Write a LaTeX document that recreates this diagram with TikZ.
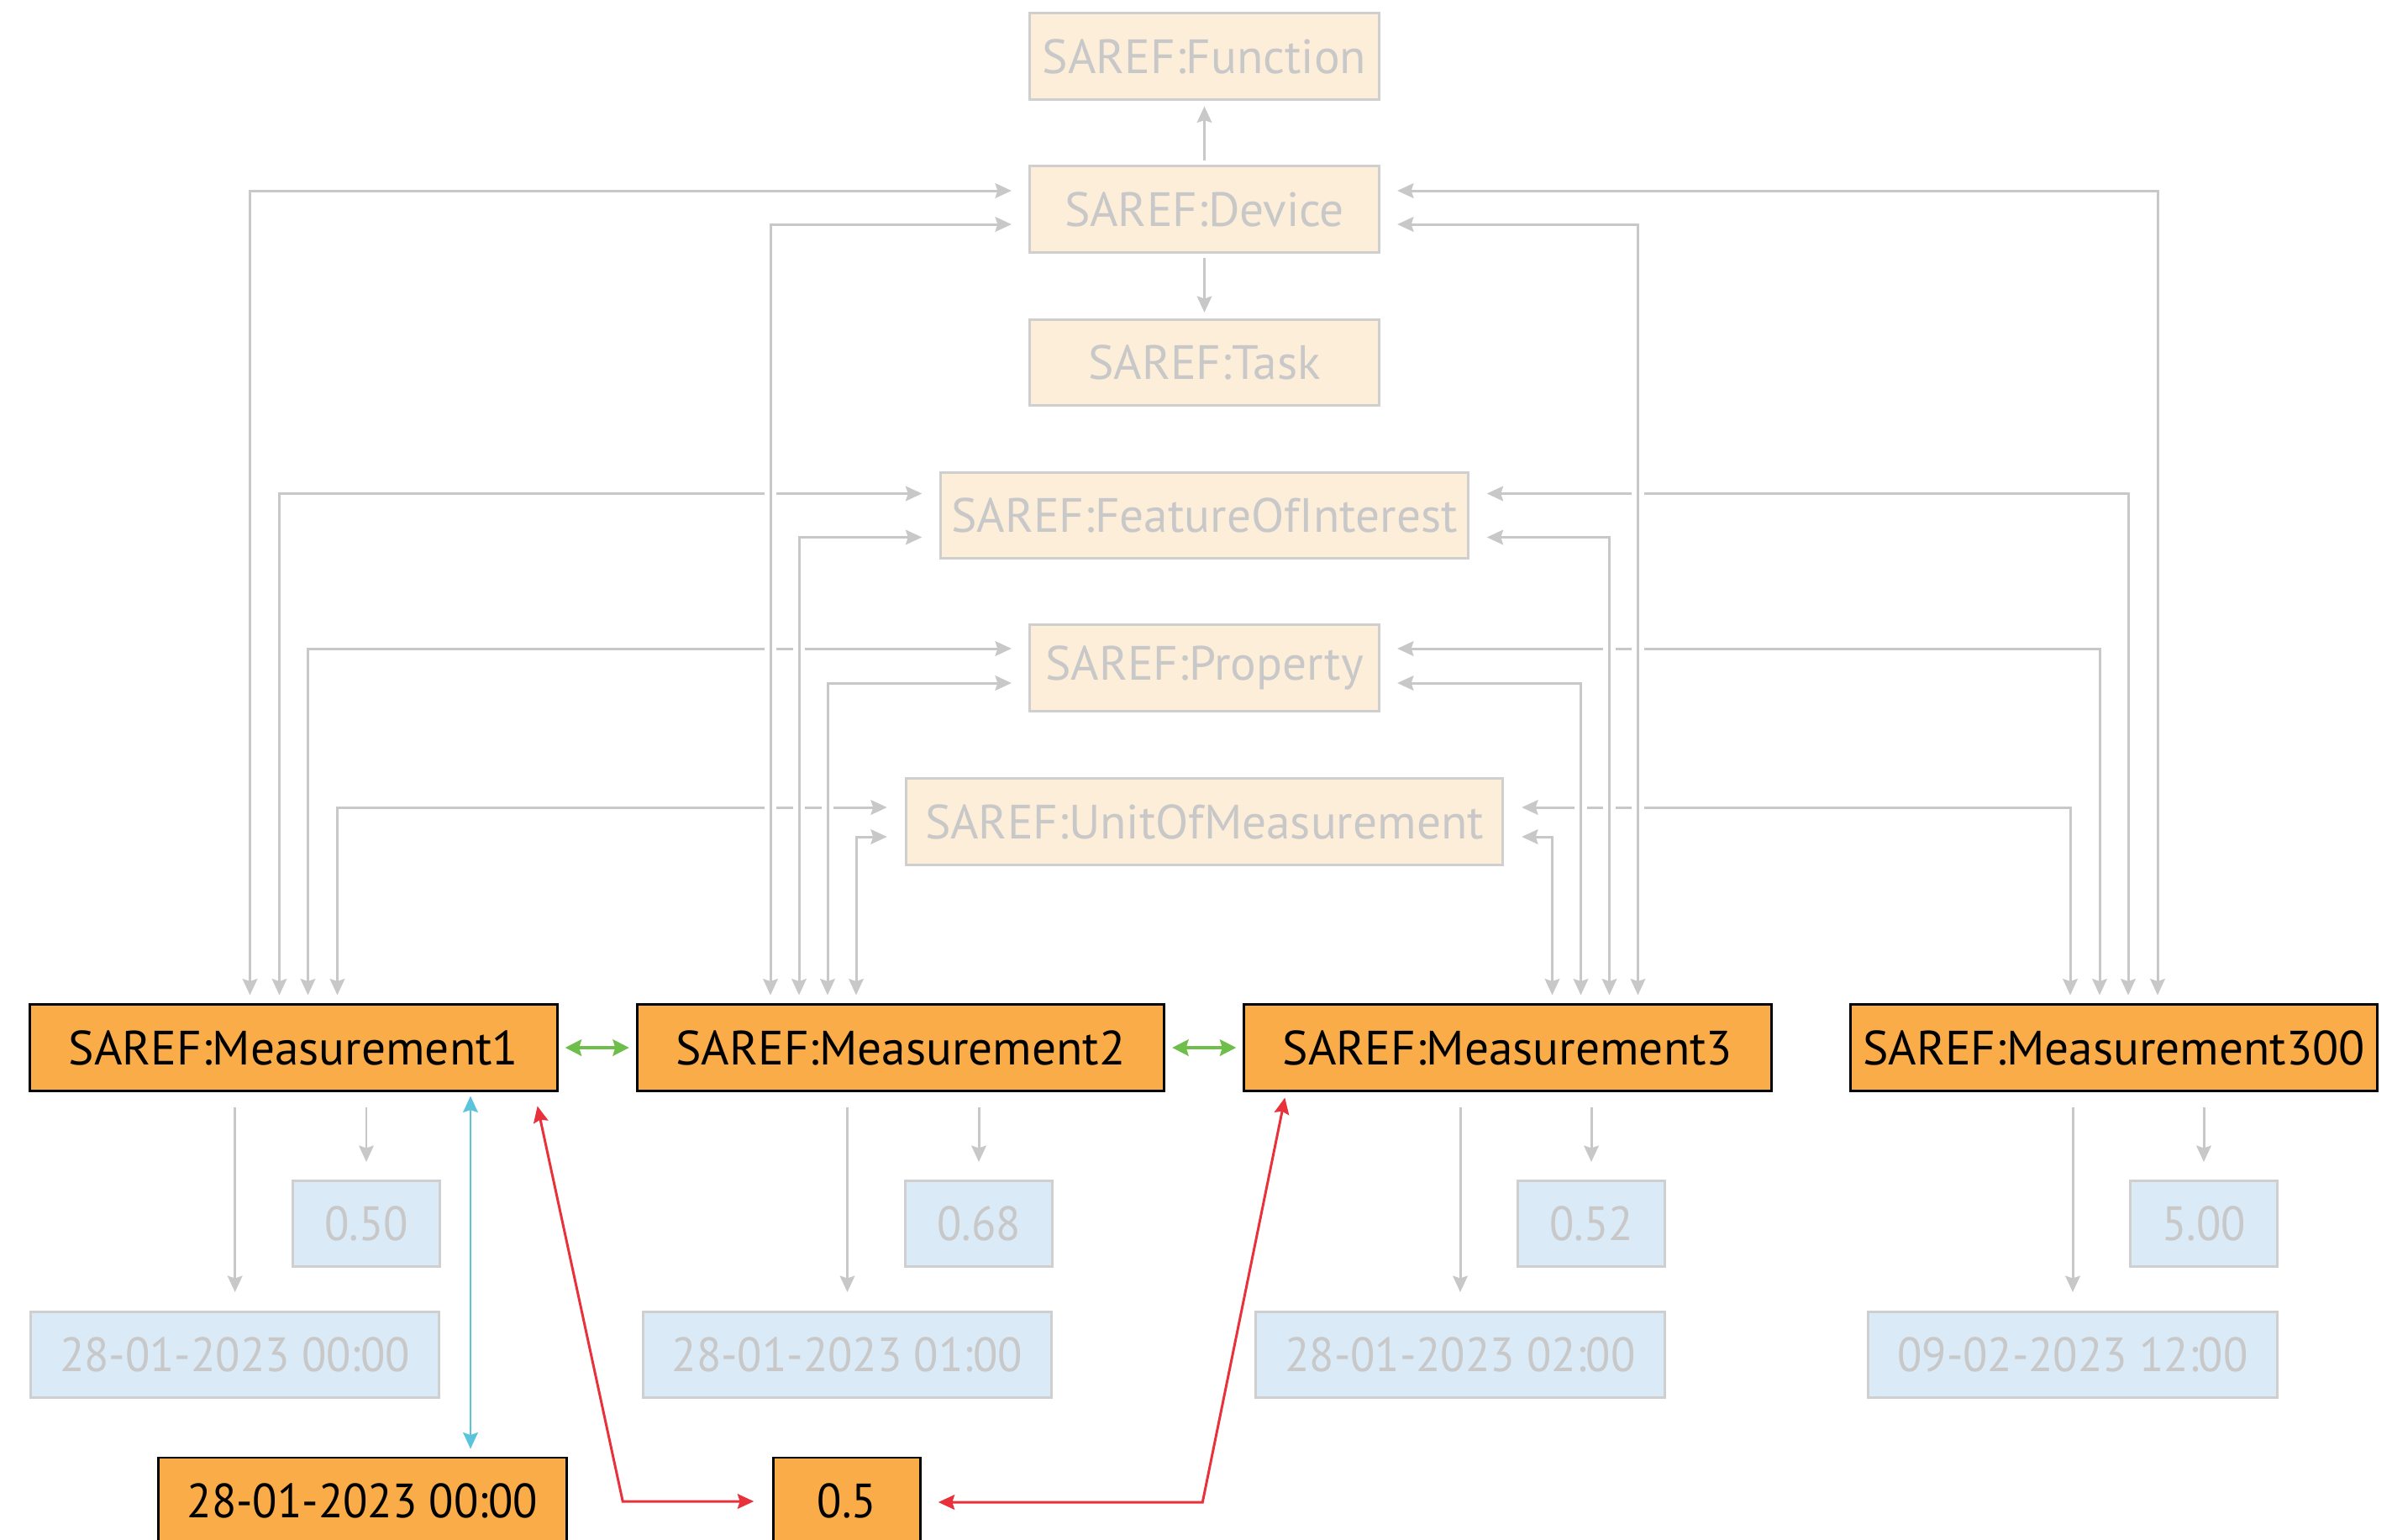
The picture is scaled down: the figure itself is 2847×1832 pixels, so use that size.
\documentclass[tikz,border=0pt]{standalone}
\usepackage{fontspec}
\setmainfont{PT Sans}
\newfontfamily\numfont[FakeStretch=0.94]{PT Sans}
\usetikzlibrary{arrows.meta,calc}
\definecolor{peach}{HTML}{FDEEDA}
\definecolor{paleblue}{HTML}{DAEAF7}
\definecolor{boxgray}{HTML}{CFCFCF}
\definecolor{txtgray}{HTML}{C8C8C8}
\definecolor{linegray}{HTML}{C8C8C8}
\definecolor{morange}{HTML}{F9AC47}
\definecolor{mgreen}{HTML}{6DBE4B}
\definecolor{mcyan}{HTML}{5BC4DA}
\definecolor{mred}{HTML}{E9313B}
\begin{document}
\begin{tikzpicture}[x=0.01cm,y=-0.01cm,
  every node/.style={font=\fontsize{16.3}{20}\selectfont, inner sep=0pt},
  numtext/.style={font=\numfont\fontsize{16.3}{20}\selectfont},
  topbox/.style={draw=boxgray, fill=peach, line width=0.85pt, text=txtgray, minimum height=1.02cm},
  valbox/.style={draw=boxgray, fill=paleblue, line width=0.85pt, text=txtgray, minimum height=1.02cm, numtext},
  mbox/.style={draw=black, fill=morange, line width=0.85pt, text=black, minimum height=1.02cm},
  conn/.style={draw=linegray, line width=0.85pt,
    {Stealth[length=5.5pt,width=5pt,inset=0.8pt]}-{Stealth[length=5.5pt,width=5pt,inset=0.8pt]},
    preaction={draw=white, line width=4pt, -}},
  garrow/.style={draw=linegray, line width=0.85pt, -{Stealth[length=5.5pt,width=5pt,inset=0.8pt]}},
  greenarr/.style={draw=mgreen, line width=1.1pt,
    {Stealth[length=5.5pt,width=5.5pt,inset=0.8pt]}-{Stealth[length=5.5pt,width=5.5pt,inset=0.8pt]}},
  cyanarr/.style={draw=mcyan, line width=0.85pt,
    {Stealth[length=5.5pt,width=5pt,inset=0.8pt]}-{Stealth[length=5.5pt,width=5pt,inset=0.8pt]}},
  redarr/.style={draw=mred, line width=0.85pt,
    {Stealth[length=5.5pt,width=5pt,inset=0.8pt]}-{Stealth[length=5.5pt,width=5pt,inset=0.8pt]}},
]
\useasboundingbox (0,0) rectangle (2847,1832);

% top column
\node[topbox, minimum width=4.16cm] (fun)  at (1433.5,67)    {SAREF:Function};
\node[topbox, minimum width=4.16cm] (dev)  at (1433.5,249)   {SAREF:Device};
\node[topbox, minimum width=4.16cm] (task) at (1433.5,431.5) {SAREF:Task};
\node[topbox, minimum width=6.27cm] (foi)  at (1433.5,613.5) {SAREF:FeatureOfInterest};
\node[topbox, minimum width=4.16cm] (prop) at (1433.5,795)   {SAREF:Property};
\node[topbox, minimum width=7.10cm] (uom)  at (1433.5,978)   {SAREF:UnitOfMeasurement};

% measurements
\node[mbox, minimum width=6.27cm] (m1)   at (349.5,1247)  {SAREF:Measurement1};
\node[mbox, minimum width=6.27cm] (m2)   at (1072,1247)   {SAREF:Measurement2};
\node[mbox, minimum width=6.27cm] (m3)   at (1794.5,1247) {SAREF:Measurement3};
\node[mbox, minimum width=6.27cm] (m300) at (2516,1247)   {SAREF:Measurement300};

% values
\node[valbox, minimum width=1.74cm] (v1) at (436,1456.5)  {0.50};
\node[valbox, minimum width=1.74cm] (v2) at (1165,1456.5) {0.68};
\node[valbox, minimum width=1.74cm] (v3) at (1894,1456.5) {0.52};
\node[valbox, minimum width=1.74cm] (v4) at (2623,1456.5) {5.00};

% timestamps
\node[valbox, minimum width=4.86cm] (t1) at (279.7,1612.5) {28-01-2023 00:00};
\node[valbox, minimum width=4.86cm] (t2) at (1008.5,1612.5) {28-01-2023 01:00};
\node[valbox, minimum width=4.86cm] (t3) at (1738,1612.5) {28-01-2023 02:00};
\node[valbox, minimum width=4.86cm] (t4) at (2467,1612.5) {09-02-2023 12:00};

% bottom highlighted
\node[mbox, numtext, minimum width=4.85cm] (b1) at (431.5,1786) {28-01-2023 00:00};
\node[mbox, numtext, minimum width=1.745cm] (b2) at (1008,1786) {0.5};

% device links
\draw[garrow] ($(dev.north)+(0,-5)$) -- ($(fun.south)+(0,7)$);
\draw[garrow] ($(dev.south)+(0,5)$) -- ($(task.north)+(0,-7)$);

% M1 (outer left)
\draw[conn] ($(m1.north)+(-52,-10)$) |- ($(dev.west)+(-20,-22)$);
\draw[conn] ($(m1.north)+(-17,-10)$) |- ($(foi.west)+(-21,-26)$);
\draw[conn] ($(m1.north)+(17,-10)$)  |- ($(prop.west)+(-20,-23)$);
\draw[conn] ($(m1.north)+(52,-10)$)  |- ($(uom.west)+(-21,-17)$);
% M300 (outer right)
\draw[conn] ($(m300.north)+(52,-10)$)  |- ($(dev.east)+(20,-22)$);
\draw[conn] ($(m300.north)+(17,-10)$)  |- ($(foi.east)+(21,-26)$);
\draw[conn] ($(m300.north)+(-17,-10)$) |- ($(prop.east)+(20,-23)$);
\draw[conn] ($(m300.north)+(-52,-10)$) |- ($(uom.east)+(21,-17)$);
% M2 (inner left)
\draw[conn] ($(m2.north)+(-155,-10)$) |- ($(dev.west)+(-20,18)$);
\draw[conn] ($(m2.north)+(-121,-10)$) |- ($(foi.west)+(-21,26)$);
\draw[conn] ($(m2.north)+(-87,-10)$)  |- ($(prop.west)+(-20,18)$);
\draw[conn] ($(m2.north)+(-53,-10)$)  |- ($(uom.west)+(-21,18)$);
% M3 (inner right)
\draw[conn] ($(m3.north)+(155,-10)$) |- ($(dev.east)+(20,18)$);
\draw[conn] ($(m3.north)+(121,-10)$) |- ($(foi.east)+(21,26)$);
\draw[conn] ($(m3.north)+(87,-10)$)  |- ($(prop.east)+(20,18)$);
\draw[conn] ($(m3.north)+(53,-10)$)  |- ($(uom.east)+(21,18)$);

% measurement -> value / timestamp
\draw[garrow] ($(t1.north |- m1.south)+(0,18)$) -- ($(t1.north)+(0,-22)$);
\draw[garrow] ($(v1.north |- m1.south)+(0,18)$) -- ($(v1.north)+(0,-21)$);
\draw[garrow] ($(t2.north |- m2.south)+(0,18)$) -- ($(t2.north)+(0,-22)$);
\draw[garrow] ($(v2.north |- m2.south)+(0,18)$) -- ($(v2.north)+(0,-21)$);
\draw[garrow] ($(t3.north |- m3.south)+(0,18)$) -- ($(t3.north)+(0,-22)$);
\draw[garrow] ($(v3.north |- m3.south)+(0,18)$) -- ($(v3.north)+(0,-21)$);
\draw[garrow] ($(t4.north |- m300.south)+(0,18)$) -- ($(t4.north)+(0,-22)$);
\draw[garrow] ($(v4.north |- m300.south)+(0,18)$) -- ($(v4.north)+(0,-21)$);

% green links
\draw[greenarr] ($(m1.east)+(8,0)$) -- ($(m2.west)+(-8,0)$);
\draw[greenarr] ($(m2.east)+(8,0)$) -- ($(m3.west)+(-8,0)$);

% cyan link
\draw[cyanarr] ($(m1.south)+(210.5,5)$) -- ($(b1.north)+(128.5,-9)$);

% red links
\draw[redarr] ($(m1.south east)+(-25,17)$) -- ($(b2.west)+(-178,1)$) -- ($(b2.west)+(-22,1)$);
\draw[redarr] ($(b2.east)+(20,2)$) -- ($(b2.east)+(334.5,2)$) -- ($(m3.south west)+(50,7)$);
\end{tikzpicture}
\end{document}
